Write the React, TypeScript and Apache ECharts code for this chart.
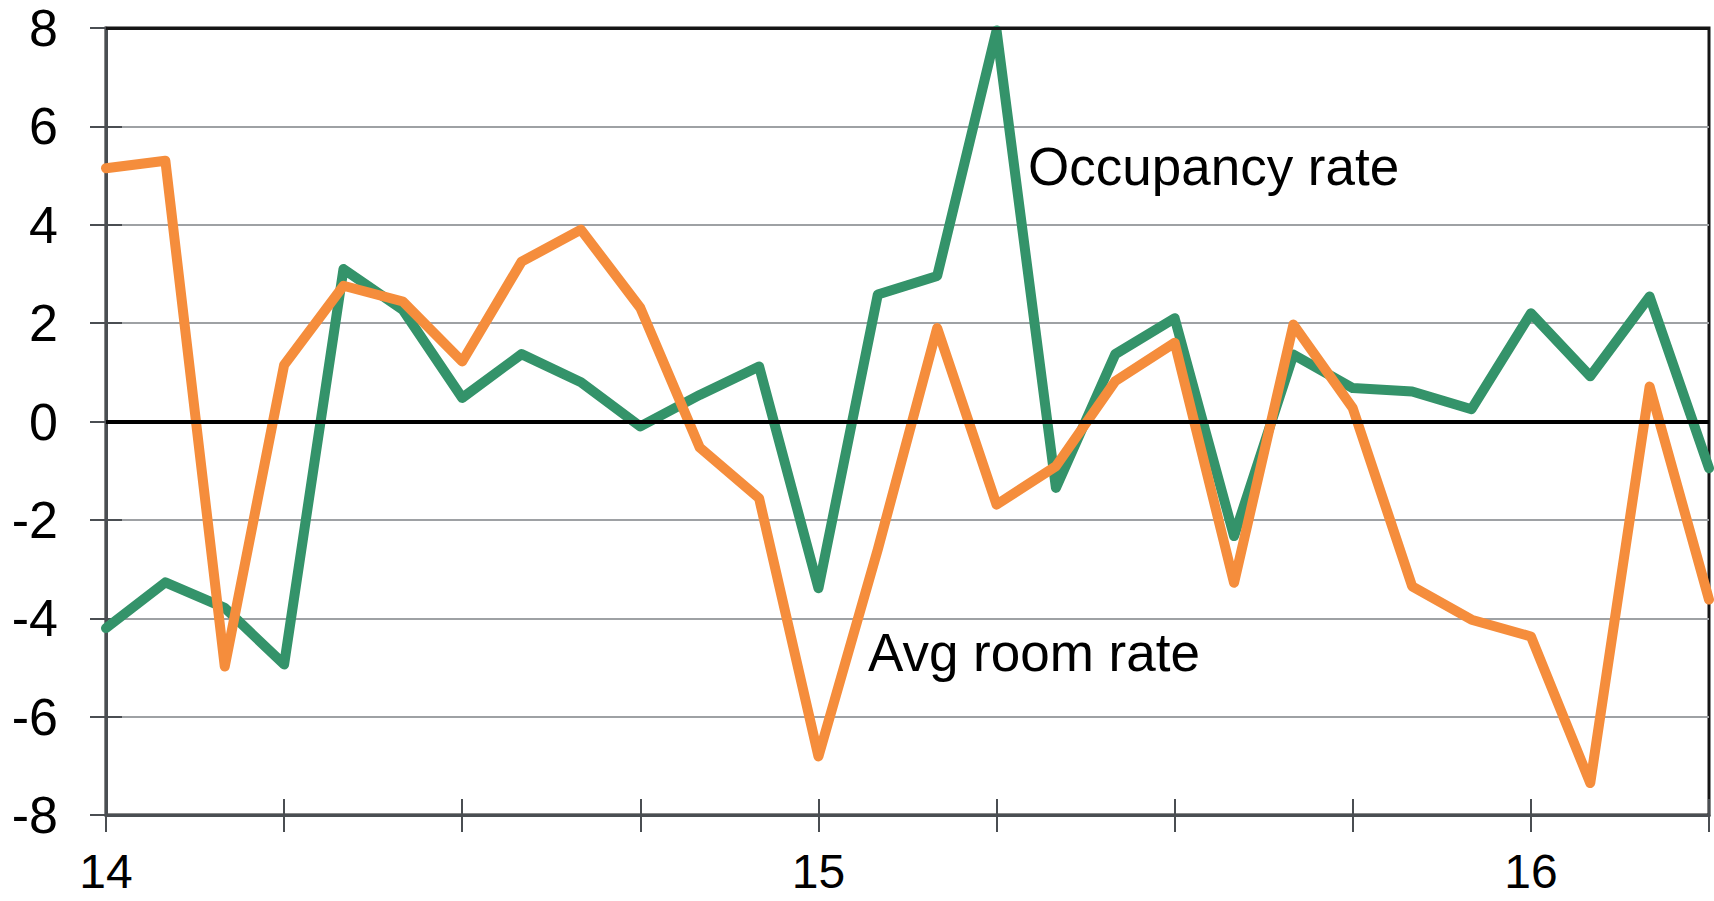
import React, { useEffect, useRef } from "react";
import * as echarts from "echarts";

const months: string[] = [
  "14-01","14-02","14-03","14-04","14-05","14-06","14-07","14-08","14-09","14-10","14-11","14-12",
  "15-01","15-02","15-03","15-04","15-05","15-06","15-07","15-08","15-09","15-10","15-11","15-12",
  "16-01","16-02","16-03","16-04",
];

const occupancyRate: number[] = [
  -4.2, -3.27, -3.79, -4.94, 3.1, 2.27, 0.48, 1.37, 0.8, -0.1, 0.54, 1.12,
  -3.39, 2.58, 2.96, 7.95, -1.35, 1.37, 2.1, -2.33, 1.36, 0.68, 0.61, 0.25,
  2.2, 0.92, 2.54, -0.95,
];

const avgRoomRate: number[] = [
  5.15, 5.3, -4.98, 1.15, 2.76, 2.44, 1.22, 3.25, 3.9, 2.31, -0.53, -1.56,
  -6.81, -2.6, 1.9, -1.69, -0.91, 0.82, 1.6, -3.28, 1.97, 0.27, -3.35, -4.03,
  -4.37, -7.35, 0.71, -3.62,
];

const FONT = "'Liberation Sans', Arial, sans-serif";

export default function App() {
  const ref = useRef<HTMLDivElement>(null);
  useEffect(() => {
    document.body.style.margin = "0";
    if (!ref.current) return;
    const chart = echarts.init(ref.current, null, { renderer: "svg" });
    const tickColor = "#4a4e52";
    chart.setOption({
      animation: false,
      backgroundColor: "#ffffff",
      grid: {
        left: 106,
        right: 5,
        top: 28,
        bottom: 86,
        show: true,
        borderColor: "#151515",
        borderWidth: 3,
        backgroundColor: "transparent",
      },
      xAxis: [
        {
          type: "category",
          data: months,
          boundaryGap: false,
          position: "bottom",
          axisLine: { show: true, onZero: false, lineStyle: { color: tickColor, width: 3 } },
          axisTick: {
            show: true,
            length: 17,
            interval: (i: number) => i % 3 === 0,
            lineStyle: { color: tickColor, width: 2 },
          },
          axisLabel: {
            interval: (i: number) => i % 12 === 0,
            formatter: (v: string) => v.slice(0, 2),
            fontSize: 48,
            lineHeight: 30,
            fontFamily: FONT,
            color: "#000",
            margin: 41,
          },
          splitLine: { show: false },
        },
        {
          type: "category",
          data: months,
          boundaryGap: false,
          position: "bottom",
          axisLine: { show: false, onZero: false },
          axisTick: {
            show: true,
            inside: true,
            length: 16,
            interval: (i: number) => i % 3 === 0,
            lineStyle: { color: tickColor, width: 2 },
          },
          axisLabel: { show: false },
          splitLine: { show: false },
        },
      ],
      yAxis: [
        {
          type: "value",
          min: -8,
          max: 8,
          interval: 2,
          axisLine: { show: true, onZero: false, lineStyle: { color: tickColor, width: 3 } },
          axisTick: { show: true, length: 16, lineStyle: { color: tickColor, width: 2 } },
          axisLabel: {
            fontSize: 52,
            fontFamily: FONT,
            color: "#000",
            margin: 48,
          },
          splitLine: { show: true, lineStyle: { color: "#9ea1a4", width: 2 } },
        },
        {
          type: "value",
          min: -8,
          max: 8,
          interval: 2,
          position: "left",
          axisLine: { show: false, onZero: false },
          axisTick: { show: true, inside: true, length: 16, lineStyle: { color: tickColor, width: 2 } },
          axisLabel: { show: false },
          splitLine: { show: false },
        },
      ],
      series: [
        {
          name: "Occupancy rate",
          type: "line",
          data: occupancyRate,
          xAxisIndex: 0,
          yAxisIndex: 0,
          symbol: "none",
          lineStyle: { color: "#34936a", width: 10, cap: "round", join: "round" },
          markLine: {
            silent: true,
            symbol: "none",
            label: { show: false },
            data: [
              { yAxis: 0, lineStyle: { color: "#000", width: 4, type: "solid" } },
              { yAxis: 8, lineStyle: { color: "#151515", width: 3, type: "solid" } },
            ],
          },
          z: 2,
        },
        {
          name: "Avg room rate",
          type: "line",
          data: avgRoomRate,
          xAxisIndex: 0,
          yAxisIndex: 0,
          symbol: "none",
          lineStyle: { color: "#f58d3c", width: 10, cap: "round", join: "round" },
          z: 3,
        },
      ],
      graphic: [
        {
          type: "text",
          left: 1028,
          top: 140,
          style: { text: "Occupancy rate", fontSize: 53, fontFamily: FONT, fill: "#000" },
          z: 10,
        },
        {
          type: "text",
          left: 868,
          top: 626,
          style: { text: "Avg room rate", fontSize: 53, fontFamily: FONT, fill: "#000" },
          z: 10,
        },
      ],
    });
    return () => chart.dispose();
  }, []);
  return <div ref={ref} style={{ width: 1714, height: 901 }} />;
}
